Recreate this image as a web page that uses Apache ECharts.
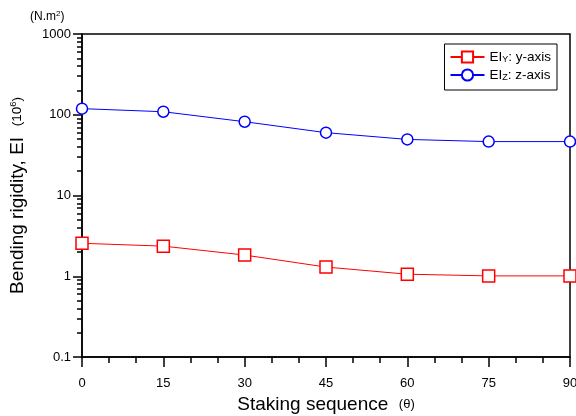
<!DOCTYPE html>
<html>
<head>
<meta charset="utf-8">
<script src="https://cdn.jsdelivr.net/npm/echarts@6/dist/echarts.min.js"></script>
<style>
  html, body { margin: 0; padding: 0; background: #fff; }
  #chart { width: 576px; height: 416px; }
</style>
</head>
<body>
<div id="chart"></div>
<script>
// stacking angle (deg)
const angles = [0, 15, 30, 45, 60, 75, 90];
// bending rigidity, EI (10^6 N.m^2)
const eiY = [2.56, 2.36, 1.83, 1.30, 1.06, 1.01, 1.01];
const eiZ = [119, 109, 82, 60, 49.5, 46.5, 46.5];
const minorLogTicks = [];
[0.1, 1, 10, 100].forEach(function (d) {
  for (let k = 2; k <= 9; k++) minorLogTicks.push(+(d * k).toPrecision(3));
});

const FONT = 'Liberation Sans, Arial, sans-serif';

const chart = echarts.init(document.getElementById('chart'));

function pairs(vals) {
  return angles.map(function (a, i) { return [a, vals[i]]; });
}

chart.setOption({
  animation: false,
  textStyle: { fontFamily: FONT },
  grid: { left: 82, right: 6, top: 34, bottom: 59, show: false,
    containLabel: false, outerBoundsMode: 'none' },
  legend: {
    orient: 'vertical',
    right: 19,
    top: 44,
    itemWidth: 34,
    itemHeight: 14,
    itemGap: 4,
    padding: [6, 6, 8, 5],
    borderColor: '#000',
    borderWidth: 1,
    backgroundColor: '#fff',
    borderRadius: 0,
    formatter: function (name) {
      return name === 'y' ? '{m|EI}{s|Y}{m|: y-axis}' : '{m|EI}{s|Z}{m|: z-axis}';
    },
    textStyle: {
      fontFamily: FONT,
      rich: {
        m: { fontSize: 13.5, color: '#000', fontFamily: FONT },
        s: { fontSize: 9, color: '#000', fontFamily: FONT, verticalAlign: 'bottom', padding: [4, 0, 0, 0] }
      }
    },
    data: ['y', 'z']
  },
  xAxis: {
    type: 'value',
    min: 0,
    max: 90,
    interval: 15,
    name: 'Staking sequence  {t|(θ)}',
    nameLocation: 'middle',
    nameGap: 37,
    nameTextStyle: {
      fontSize: 19, color: '#000', fontFamily: FONT,
      rich: { t: { fontSize: 13, color: '#000', fontFamily: FONT } }
    },
    axisLine: { lineStyle: { color: '#000', width: 1.5 } },
    axisTick: { show: true, length: 10, lineStyle: { color: '#000', width: 1.5 } },
    minorTick: { show: true, splitNumber: 3, length: 6, lineStyle: { color: '#000', width: 1.5 } },
    axisLabel: { fontSize: 13, color: '#000', margin: 20, fontFamily: FONT },
    splitLine: { show: false }
  },
  yAxis: [
    {
      type: 'log',
      logBase: 10,
      min: 0.1,
      max: 1000,
      name: 'Bending rigidity, EI  {t|(10}{p|6}{t|)}',
      nameLocation: 'middle',
      nameRotate: 90,
      nameGap: 55,
      nameTextStyle: {
        fontSize: 19, color: '#000', fontFamily: FONT,
        rich: {
          t: { fontSize: 13.5, color: '#000', fontFamily: FONT },
          p: { fontSize: 9.5, color: '#000', fontFamily: FONT, verticalAlign: 'top', padding: [0, 0, 7, 0] }
        }
      },
      axisLine: { show: true, lineStyle: { color: '#000', width: 1.5 } },
      axisTick: { show: true, length: 9, lineStyle: { color: '#000', width: 1.5 } },
      axisLabel: { fontSize: 13, color: '#000', margin: 11, fontFamily: FONT,
        formatter: function (v) { return String(v); } },
      splitLine: { show: false }
    },
    {
      type: 'log',
      logBase: 10,
      min: 0.1,
      max: 1000,
      position: 'left',
      offset: 0,
      axisLine: { show: false },
      axisTick: { show: true, length: 5, customValues: minorLogTicks,
        lineStyle: { color: '#000', width: 1.5 } },
      axisLabel: { show: false },
      splitLine: { show: false }
    }
  ],
  graphic: [
    {
      type: 'text', left: 30, top: 10,
      style: { text: '(N.m{s|2})', fill: '#000', font: '12px ' + FONT,
        rich: { s: { fontSize: 8, fill: '#000', verticalAlign: 'top', padding: [0, 0, 5, 0] } } }
    },
    {
      type: 'rect', shape: { x: 82, y: 34, width: 488, height: 323 },
      style: { fill: 'none', stroke: '#000', lineWidth: 1.5 }, silent: true, z: 0
    }
  ],
  series: [
    {
      name: 'y',
      type: 'line',
      data: pairs(eiY),
      symbol: 'rect',
      symbolSize: 12,
      showAllSymbol: true,
      lineStyle: { color: '#ff0000', width: 1 },
      itemStyle: { color: '#fff', borderColor: '#ff0000', borderWidth: 1.5 },
      emphasis: { disabled: true },
      z: 3
    },
    {
      name: 'z',
      type: 'line',
      data: pairs(eiZ),
      symbol: 'circle',
      symbolSize: 11,
      showAllSymbol: true,
      lineStyle: { color: '#0000ff', width: 1 },
      itemStyle: { color: '#fff', borderColor: '#0000ff', borderWidth: 1.5 },
      emphasis: { disabled: true },
      z: 3
    }
  ]
});
</script>
</body>
</html>
